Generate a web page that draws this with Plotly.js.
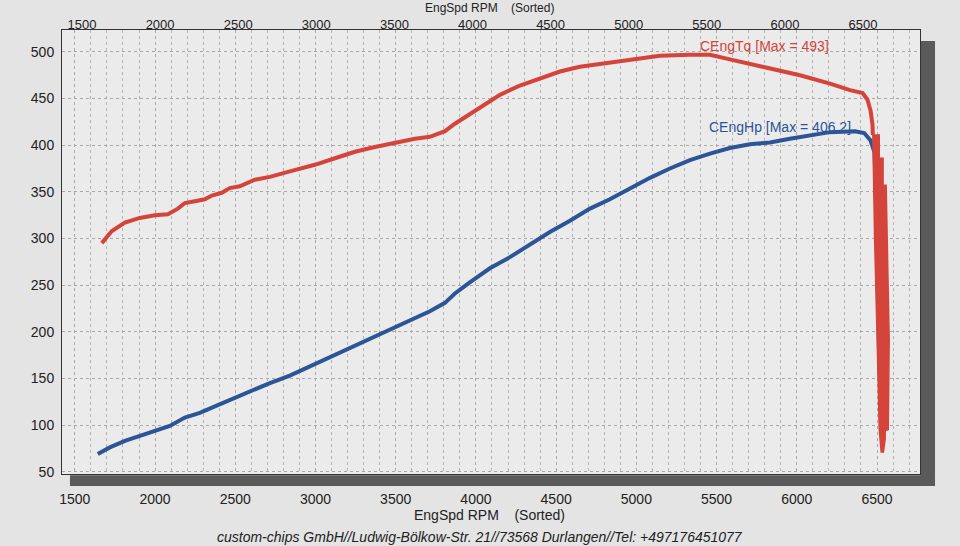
<!DOCTYPE html>
<html>
<head>
<meta charset="utf-8">
<script src="https://cdn.plot.ly/plotly-3.0.1.min.js"></script>
<style>html,body{margin:0;padding:0;background:#e4e4e4;}#chart{width:960px;height:546px;}</style>
</head>
<body>
<div id="chart"></div>
<script>
// Torque curve (CEngTq)
var tqRpm = [1668,1731,1812,1905,1999,2080,2142,2186,2248,2310,2354,2416,2466,2528,2622,2716,2840,2996,3121,3246,3370,3495,3620,3713,3807,3869,3931,4025,4150,4274,4399,4524,4648,4773,4960,5147,5334,5459,5583,5708,5833,6020,6207,6332,6410,6440,6460,6472,6474];
var tq    = [295,308,317,322,325,326,332,338,340,342,346,349,354,356,363,366,372,379,386,393,398,403,407,409,415,423,430,441,454,464,471,479,484,487,492,496,497,497,492,487,482,475,466,459,456,449,437,422,411];
// End-of-run torque scatter (noisy band) read as its outline: down the left edge, back up the right edge
var tqDropRpm = [6474,6476,6485,6501,6514,6526,6540,6551,6551,6570,6576,6557,6538,6538,6514,6514,6474];
var tqDrop    = [411,380,300,191,95,71,71,85,94,95,191,357,357,386,386,411,411];
// Power curve (CEngHp)
var hpRpm = [1643,1718,1812,1905,1999,2092,2186,2279,2373,2466,2591,2716,2840,2965,3090,3214,3339,3464,3589,3713,3807,3869,3962,4087,4212,4337,4461,4586,4711,4835,4960,5085,5209,5334,5459,5583,5708,5833,5957,6082,6207,6363,6420,6460,6485,6495,6505,6515,6530,6545];
var hp    = [69,76,83,88,94,99,108,113,120,127,136,145,153,163,173,183,193,203,212,222,231,241,253,268,280,294,307,319,332,342,354,365,375,384,391,397,401,403,407,411,414,415,413,405,392,330,250,160,100,92];
var xTicks = [1500,2000,2500,3000,3500,4000,4500,5000,5500,6000,6500];
var yTicks = [50,100,150,200,250,300,350,400,450,500];
var tqLabel = "CEngTq [Max = 493]";
var hpLabel = "CEngHp [Max = 406.2]";
var xTitle = "EngSpd RPM\u00A0\u00A0\u00A0\u00A0(Sorted)";
var footer = "custom-chips GmbH//Ludwig-Bölkow-Str. 21//73568 Durlangen//Tel: +497176451077";

var FONT = "Liberation Sans Narrow, Liberation Sans, Arial, sans-serif";
var RED = "#d5443a", BLUE = "#2c5597";

var traces = [
  {x: hpRpm, y: hp, type: "scatter", mode: "lines", line: {color: BLUE, width: 4}, hoverinfo: "skip", showlegend: false},
  {x: tqRpm, y: tq, type: "scatter", mode: "lines", line: {color: RED, width: 4}, hoverinfo: "skip", showlegend: false},
  {x: tqDropRpm, y: tqDrop, type: "scatter", mode: "lines", fill: "toself", fillcolor: RED, line: {color: RED, width: 1.5}, hoverinfo: "skip", showlegend: false},
  {x: [tqRpm[0]], y: [tq[0]], xaxis: "x2", type: "scatter", mode: "markers", marker: {opacity: 0}, hoverinfo: "skip", showlegend: false}
];

var axisCommon = {
  showline: true, linecolor: "#333", linewidth: 1, mirror: false,
  zeroline: false, showgrid: true, gridcolor: "#a8a8a8", griddash: "dot", gridwidth: 1,
  tickfont: {family: FONT, size: 14, color: "#222"}
};

var layout = {
  width: 960, height: 546,
  margin: {l: 62, r: 40, t: 30, b: 72},
  paper_bgcolor: "#e4e4e4",
  plot_bgcolor: "#ebebeb",
  showlegend: false,
  xaxis: Object.assign({}, axisCommon, {
    range: [1420, 6768], tickmode: "array", tickvals: xTicks, ticktext: xTicks.map(String),
    ticks: "outside", ticklen: 12, tickcolor: "rgba(0,0,0,0)", mirror: true,
    minor: {dtick: 100, tick0: 1500, showgrid: true, gridcolor: "#b4b4b4", griddash: "dot", gridwidth: 1}
  }),
  xaxis2: Object.assign({}, axisCommon, {
    overlaying: "x", side: "top", range: [1372, 6865], showgrid: false, showline: false,
    tickmode: "array", tickvals: xTicks, ticktext: xTicks.map(String), ticks: "",
    ticklabelstandoff: -3, tickfont: {family: FONT, size: 13, color: "#222"}
  }),
  yaxis: Object.assign({}, axisCommon, {
    range: [47.5, 523.5], tickmode: "array", tickvals: yTicks, ticktext: yTicks.map(String),
    ticks: "outside", ticklen: 4, tickcolor: "rgba(0,0,0,0)", mirror: true
  }),
  shapes: [
    {type: "rect", xref: "paper", yref: "paper", x0: 0.0093, x1: 1.0175, y0: -0.027, y1: -0.003, fillcolor: "#5a5a5a", line: {width: 0}, layer: "below"},
    {type: "rect", xref: "paper", yref: "paper", x0: 1.001, x1: 1.0175, y0: -0.027, y1: 0.975, fillcolor: "#5a5a5a", line: {width: 0}, layer: "below"}
  ],
  annotations: [
    {text: tqLabel, x: 5384, y: 506, xref: "x", yref: "y", xanchor: "left", yanchor: "middle", showarrow: false, font: {family: FONT, size: 14, color: RED}},
    {text: hpLabel, x: 5440, y: 419, xref: "x", yref: "y", xanchor: "left", yanchor: "middle", showarrow: false, font: {family: FONT, size: 14, color: BLUE}},
    {text: xTitle, x: 0.498, y: -0.092, xref: "paper", yref: "paper", xanchor: "center", yanchor: "middle", showarrow: false, font: {family: FONT, size: 14, color: "#222"}},
    {text: xTitle, x: 0.498, y: 1.0698, xref: "paper", yref: "paper", xanchor: "center", yanchor: "top", showarrow: false, font: {family: FONT, size: 12, color: "#222"}},
    {text: "<i>" + footer + "</i>", x: 0.487, y: -0.142, xref: "paper", yref: "paper", xanchor: "center", yanchor: "middle", showarrow: false, font: {family: FONT, size: 14, color: "#222"}}
  ]
};

Plotly.newPlot("chart", traces, layout, {staticPlot: true, displayModeBar: false});
</script>
</body>
</html>
